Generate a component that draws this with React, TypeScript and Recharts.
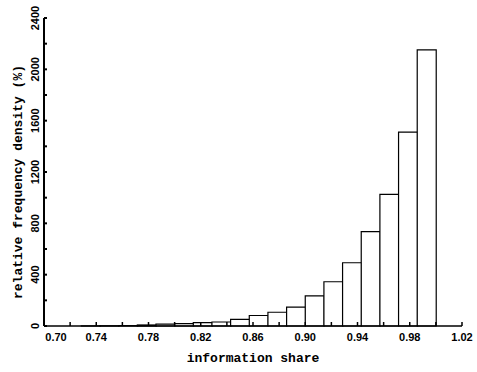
import { BarChart, Bar, XAxis, YAxis } from "recharts";

// histogram bins (centres), 21 bins across 0.70 - 1.00
const binCenters = [
  0.70714, 0.72143, 0.73571, 0.75, 0.76429, 0.77857, 0.79286, 0.80714, 0.82143, 0.83571,
  0.85, 0.86429, 0.87857, 0.89286, 0.90714, 0.92143, 0.93571, 0.95, 0.96429, 0.97857, 0.99286,
];
const density = [
  0, 0, 1, 2, 4, 8, 15, 19, 26, 31, 52, 82, 107, 147, 235, 345, 493, 735, 1026, 1510, 2151,
];

const xTicks = [0.7, 0.72, 0.74, 0.76, 0.78, 0.8, 0.82, 0.84, 0.86, 0.88, 0.9, 0.92, 0.94, 0.96, 0.98, 1.0, 1.02];
const xLabels = ["0.70", "0.74", "0.78", "0.82", "0.86", "0.90", "0.94", "0.98", "1.02"];
const yTicks = [0, 200, 400, 600, 800, 1000, 1200, 1400, 1600, 1800, 2000, 2200, 2400];
const yLabels = [0, 400, 800, 1200, 1600, 2000, 2400];

const data = binCenters.map((x, i) => ({ x, v: density[i] }));

const tickFont = "'Liberation Sans', Arial, sans-serif";
const titleFont = "'Liberation Mono', 'DejaVu Sans Mono', monospace";

function XTick(props: any) {
  const { x, y, payload } = props;
  const label = payload.value.toFixed(2);
  if (!xLabels.includes(label)) return null;
  const shift = label === "0.70" ? 12 : 0;
  return (
    <text x={x + shift} y={y + 11} textAnchor="middle" fontFamily={tickFont} fontWeight="bold" fontSize={11} fill="#000">
      {label}
    </text>
  );
}

function YTick(props: any) {
  const { x, y, payload } = props;
  if (!yLabels.includes(payload.value)) return null;
  return (
    <text
      x={x}
      y={y}
      transform={`rotate(-90 ${x} ${y})`}
      textAnchor="middle"
      fontFamily={tickFont}
      fontWeight="bold"
      fontSize={11}
      fill="#000"
    >
      {payload.value}
    </text>
  );
}

export default function App() {
  return (
    <div style={{ position: "absolute", left: 0, top: 0, background: "#fff" }}>
      <BarChart
        width={477}
        height={372}
        data={data}
        margin={{ top: 18, right: 15, bottom: 0, left: 0 }}
        barCategoryGap={0}
        barGap={0}
      >
        <XAxis
          dataKey="x"
          type="number"
          domain={[0.7, 1.02]}
          ticks={xTicks}
          interval={0}
          height={46}
          stroke="#000"
          strokeWidth={1.5}
          tickSize={-4}
          tickMargin={8}
          tick={<XTick />}
          label={{
            content: (p: any) => {
              const vb = p.viewBox;
              return (
                <text
                  x={vb.x + vb.width / 2}
                  y={vb.y + 36}
                  textAnchor="middle"
                  fontFamily={titleFont}
                  fontWeight="bold"
                  fontSize={13}
                  fill="#000"
                >
                  information share
                </text>
              );
            },
          }}
        />
        <YAxis
          type="number"
          domain={[0, 2400]}
          ticks={yTicks}
          interval={0}
          width={44}
          stroke="#000"
          strokeWidth={2}
          tickSize={-3}
          tickMargin={8}
          tick={<YTick />}
          label={{
            content: (p: any) => {
              const vb = p.viewBox;
              const cx = vb.x + 18;
              const cy = vb.y + vb.height / 2 + 10;
              return (
                <text
                  x={cx}
                  y={cy}
                  transform={`rotate(-90 ${cx} ${cy})`}
                  textAnchor="middle"
                  dominantBaseline="central"
                  fontFamily={titleFont}
                  fontWeight="bold"
                  fontSize={13}
                  fill="#000"
                >
                  relative frequency density (%)
                </text>
              );
            },
          }}
        />
        <Bar dataKey="v" fill="#fff" stroke="#000" strokeWidth={1.2} isAnimationActive={false} />
      </BarChart>
    </div>
  );
}
